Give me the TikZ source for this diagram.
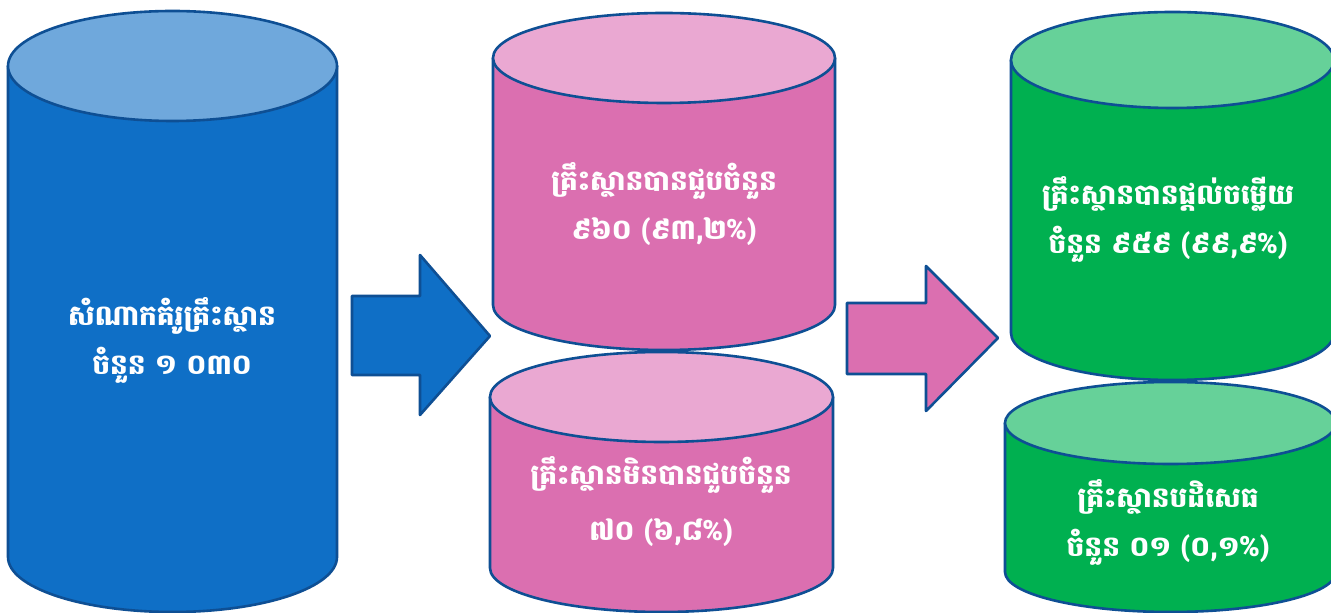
\documentclass[tikz,border=0pt]{standalone}
\usepackage{fontspec}
\newfontfamily\khmer[Script=Khmer]{Battambang}
\definecolor{edge}{HTML}{0E4F94}
\definecolor{bluebody}{HTML}{0F6FC6}
\definecolor{bluetop}{HTML}{6FA8DC}
\definecolor{pinkbody}{HTML}{DB6FB0}
\definecolor{pinktop}{HTML}{EAA8D2}
\definecolor{greenbody}{HTML}{00B050}
\definecolor{greentop}{HTML}{66D199}
\tikzset{
  cylline/.style={draw=edge, line width=2.6pt, line join=round},
  cyltext/.style={text=white, font=\khmer\bfseries\fontsize{28}{49}\selectfont, align=center},
}
% #1 left, #2 right, #3 top centre Y, #4 top ry, #5 bottom centre Y, #6 bottom ry, #7 body, #8 top
\newcommand{\mycyl}[8]{%
  \pgfmathsetmacro{\rx}{(#2-#1)/2}%
  \pgfmathsetmacro{\cx}{(#2+#1)/2}%
  \path[cylline, fill=#7] (#1,#3) -- (#1,#5) arc[start angle=180, end angle=360, x radius=\rx, y radius=#6] -- (#2,#3) -- cycle;
  \path[cylline, fill=#8] (\cx,#3) ellipse [x radius=\rx, y radius=#4];
}
\begin{document}
\begin{tikzpicture}[x=1pt,y=1pt]
\useasboundingbox (0,0) rectangle (1331,613);
\fill[white] (0,0) rectangle (1331,613);
% cylinders
\mycyl{8}{337}{547}{55}{56}{55}{bluebody}{bluetop}
\mycyl{493}{835}{555}{45}{308}{45}{pinkbody}{pinktop}
\mycyl{490}{833}{216}{45}{45}{44}{pinkbody}{pinktop}
\mycyl{1011}{1334}{553}{48}{280}{47}{greenbody}{greentop}
\mycyl{1005}{1336}{190}{41}{41}{40}{greenbody}{greentop}
% arrows
\path[cylline, fill=bluebody] (352,317) -- (420,317) -- (420,358) -- (490,277) -- (420,198) -- (420,238) -- (352,238) -- cycle;
\path[cylline, fill=pinkbody] (847,310) -- (926,310) -- (926,347) -- (998,275) -- (926,202) -- (926,239) -- (847,239) -- cycle;
% labels
\node[cyltext] (t1) at (172,273) {សំណាកគំរូគ្រឹះស្ថាន\\ចំនួន ១ ០៣០};
\node[cyltext] (t2) at (664,409) {គ្រឹះស្ថានបានជួបចំនួន\\៩៦០ (៩៣,២\%)};
\node[cyltext, font=\khmer\bfseries\fontsize{28}{56}\selectfont] (t3) at (661,111) {គ្រឹះស្ថានមិនបានជួបចំនួន\\៧០ (៦,៨\%)};
\node[cyltext] (t4) at (1168,394) {គ្រឹះស្ថានបានផ្តល់ចម្លើយ\\ចំនួន ៩៥៩ (៩៩,៩\%)};
\node[cyltext] (t5) at (1168,91) {គ្រឹះស្ថានបដិសេធ\\ចំនួន ០១ (០,១\%)};
\end{tikzpicture}
\end{document}
